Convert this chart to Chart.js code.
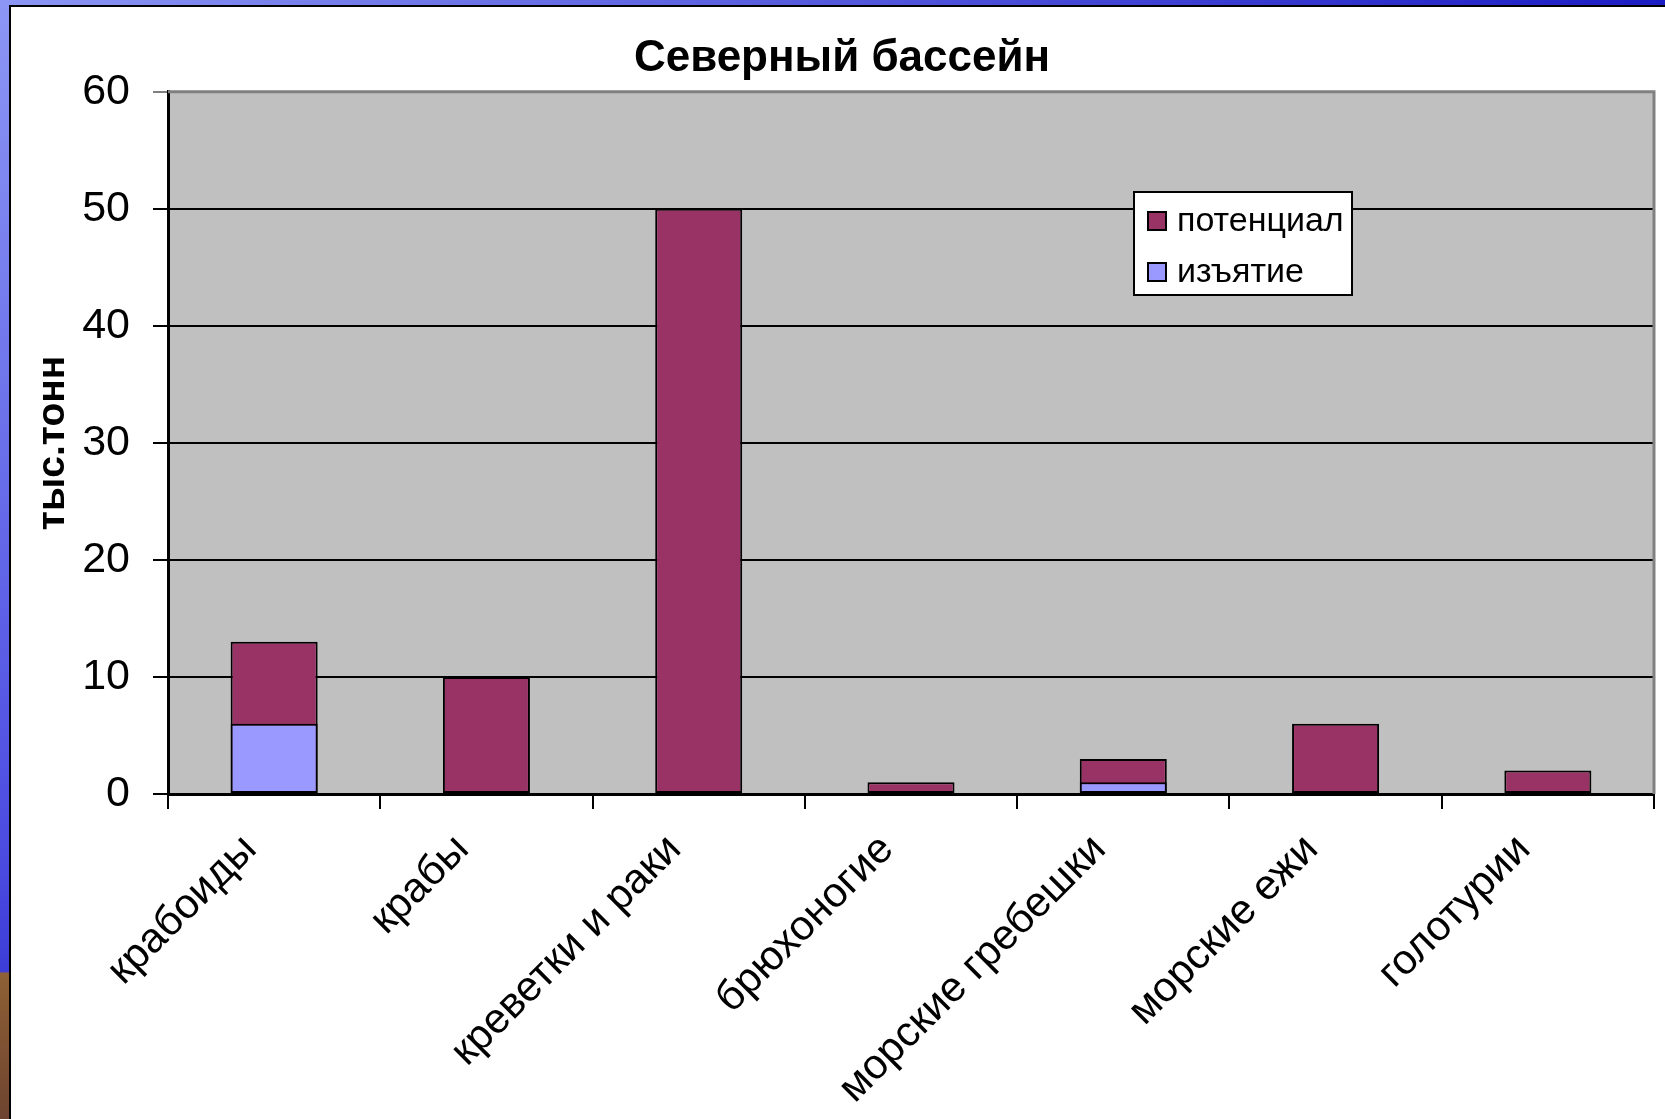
<!DOCTYPE html>
<html lang="ru">
<head>
<meta charset="UTF-8">
<title>Северный бассейн</title>
<style>
    html, body { margin: 0; padding: 0; }
    body {
        width: 1665px;
        height: 1119px;
        overflow: hidden;
        position: relative;
        background: linear-gradient(to bottom, #8c96f4 0%, #4a4ae0 78%, #3c3cd8 86.8%, #8e6034 87%, #6e4430 100%);
    }
    .topstrip {
        position: absolute; left: 0; top: 0; width: 100%; height: 7px;
        background: linear-gradient(to right, #8c96f4, #1c1cc4);
    }
    .panel {
        position: absolute; left: 9px; top: 5px; right: 0; bottom: 0;
        background: #fff;
        border-left: 2px solid #000;
        border-top: 2px solid #000;
    }
    canvas { display: block; }
</style>
<script src="https://cdn.jsdelivr.net/npm/chart.js"></script>
</head>
<body>
<div class="topstrip"></div>
<div class="panel">
    <canvas id="chart" width="1654" height="1112"></canvas>
</div>
<script>
    // data (тыс. тонн)
    const categories = ['крабоиды', 'крабы', 'креветки и раки', 'брюхоногие', 'морские гребешки', 'морские ежи', 'голотурии'];
    const potential = [13, 10, 50, 1, 3, 6, 2];
    const removal = [6, null, null, null, 1, null, null];
    const yMin = 0, yMax = 60, yStep = 10;

    const FONT = "'Liberation Sans', Arial, sans-serif";

    // grey plot background + grey top/right frame
    const plotBg = {
        id: 'plotBg',
        beforeDraw(chart) {
            const { ctx, chartArea: a } = chart;
            ctx.save();
            ctx.fillStyle = '#c0c0c0';
            ctx.fillRect(a.left, a.top, a.right - a.left, a.bottom - a.top);
            ctx.restore();
        },
        beforeDatasetsDraw(chart) {
            const { ctx, chartArea: a } = chart;
            ctx.save();
            ctx.strokeStyle = '#808080';
            ctx.lineWidth = 3;
            ctx.beginPath();
            ctx.moveTo(a.left, a.top);
            ctx.lineTo(a.right, a.top);
            ctx.lineTo(a.right, a.bottom);
            ctx.stroke();
            ctx.restore();
        }
    };

    // legend box inside the plot, like the original
    const boxLegend = {
        id: 'boxLegend',
        afterDraw(chart) {
            const { ctx } = chart;
            const x = 1123, y = 185, w = 218, h = 103;
            ctx.save();
            ctx.fillStyle = '#fff';
            ctx.fillRect(x, y, w, h);
            ctx.strokeStyle = '#000';
            ctx.lineWidth = 2;
            ctx.strokeRect(x, y, w, h);
            ctx.font = '34px ' + FONT;
            ctx.textBaseline = 'middle';
            chart.data.datasets.forEach((ds, i) => {
                const cy = y + 29 + i * 51;
                ctx.fillStyle = ds.backgroundColor;
                ctx.fillRect(x + 14, cy - 9, 18, 18);
                ctx.lineWidth = 2;
                ctx.strokeRect(x + 14, cy - 9, 18, 18);
                ctx.fillStyle = '#000';
                ctx.fillText(ds.label, x + 43, cy + 1);
            });
            ctx.restore();
        }
    };

    new Chart(document.getElementById('chart'), {
        type: 'bar',
        data: {
            labels: categories,
            datasets: [{
                label: 'потенциал',
                data: potential,
                backgroundColor: '#993366',
                borderColor: '#000',
                borderWidth: 2,
                borderSkipped: false,
                order: 1
            }, {
                label: 'изъятие',
                data: removal,
                backgroundColor: '#9999ff',
                borderColor: '#000',
                borderWidth: 2,
                borderSkipped: false,
                order: 0
            }]
        },
        options: {
            responsive: false,
            animation: false,
            layout: { padding: { left: 19, right: 11, top: 0, bottom: 0 } },
            datasets: { bar: { categoryPercentage: 1, barPercentage: 0.41 } },
            scales: {
                x: {
                    stacked: true,
                    grid: {
                        offset: true,
                        drawOnChartArea: false,
                        color: '#000',
                        lineWidth: 2,
                        tickLength: 15
                    },
                    border: { color: '#000', width: 3 },
                    ticks: {
                        color: '#000',
                        font: { family: FONT, size: 42 },
                        minRotation: 45,
                        maxRotation: 45,
                        autoSkip: false,
                        padding: 16,
                        labelOffset: -24
                    },
                    afterFit(scale) { scale.height = 325; }
                },
                y: {
                    stacked: false,
                    min: yMin,
                    max: yMax,
                    ticks: {
                        stepSize: yStep,
                        color: '#000',
                        font: { family: FONT, size: 43 },
                        padding: 23
                    },
                    grid: {
                        color: ctx => (ctx.tick && ctx.tick.value === yMax) ? '#808080' : '#000',
                        lineWidth: 2,
                        tickLength: 15
                    },
                    border: { color: '#000', width: 3 },
                    title: {
                        display: true,
                        text: 'тыс.тонн',
                        color: '#000',
                        font: { family: FONT, size: 39, weight: 'bold' },
                        padding: { top: 0, bottom: 0 }
                    },
                    afterFit(scale) { scale.width = 138; }
                }
            },
            plugins: {
                legend: { display: false },
                tooltip: { enabled: false },
                title: {
                    display: true,
                    text: 'Северный бассейн',
                    color: '#000',
                    font: { family: FONT, size: 44, weight: 'bold' },
                    padding: { top: 25, bottom: 7 }
                }
            }
        },
        plugins: [plotBg, boxLegend]
    });
</script>
</body>
</html>
